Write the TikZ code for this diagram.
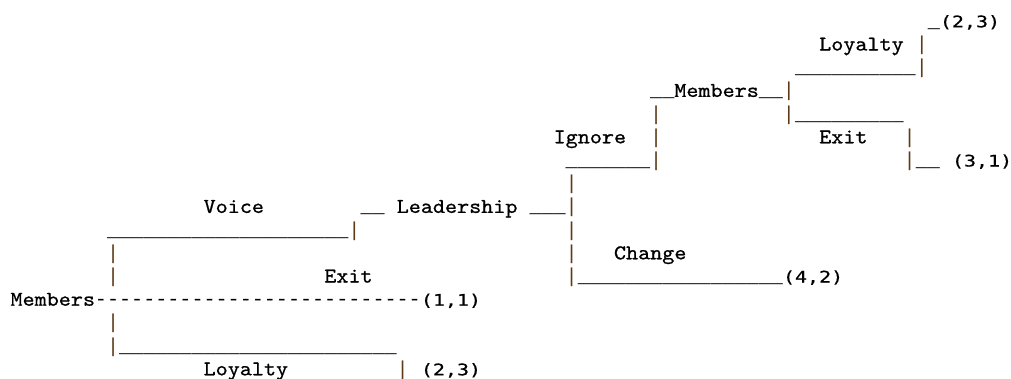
\documentclass[tikz,border=0pt]{standalone}
\usepackage{fontspec}
\newfontfamily\labfont{lmmono10-regular}[Extension=.otf, FakeStretch=1.095, FakeBold=0.8]
\newfontfamily\linefont{Liberation Mono}
\newfontfamily\payfont[FakeStretch=1.25, FakeBold=0.6]{DejaVu Sans Mono}
\definecolor{barbrown}{RGB}{95,58,22}
\ExplSyntaxOn
\NewDocumentCommand\Rep{mm}{\prg_replicate:nn{#1}{#2}}
\ExplSyntaxOff
\tikzset{
  cell/.style={anchor=base west, inner sep=0pt, outer sep=0pt},
  lab/.style={cell, font=\labfont\fontsize{21}{24}\selectfont},
  pay/.style={cell, font=\payfont\fontsize{16}{20}\selectfont},
  lin/.style={cell, font=\linefont\fontsize{20.11}{24}\selectfont},
  vbar/.style={lin, text=barbrown},
}
% character grid: column c starts at x = 10.5 + 12.07 c ; row r has its baseline at y = 27.3 + 23.2 r
% #1 name, #2 row, #3 column, #4 text
\newcommand\Lab[4]{\node[lab] (#1) at ({10.5+12.07*#3},{27.3+23.2*#2}) {#4};}
\newcommand\Pay[4]{\node[pay] (#1) at ({10.5+12.07*#3},{27.3+23.2*#2}) {#4};}
\newcommand\Ln[4]{\node[lin] (#1) at ({10.5+12.07*#3},{27.3+23.2*#2}) {#4};}
\newcommand\Vb[3]{\node[vbar] (#1) at ({10.5+12.07*#3},{27.3+23.2*#2}) {|};}
\begin{document}
\begin{tikzpicture}[x=1pt,y=-1pt]
\useasboundingbox (0,0) rectangle (1011,378);
% row 0
\Ln{usA}{0}{76}{\_}
\Pay{payA}{0}{77}{(2,3)}
% row 1
\Lab{loyB}{1}{67}{Loyalty}
\Vb{vbB}{1}{75}
% row 2
\Ln{usC}{2}{65}{\Rep{10}{\_}}
\Vb{vbC}{2}{75}
% row 3
\Ln{usDa}{3}{53}{\_\_}
\Lab{memD}{3}{55}{Members}
\Ln{usDb}{3}{62}{\_\_}
\Vb{vbD}{3}{64}
% row 4
\Vb{vbEa}{4}{53}
\Vb{vbEb}{4}{64}
\Ln{usE}{4}{65}{\Rep{9}{\_}}
% row 5
\Lab{ignF}{5}{45}{Ignore}
\Vb{vbFa}{5}{53}
\Lab{exitF}{5}{67}{Exit}
\Vb{vbFb}{5}{74}
% row 6
\Ln{usGa}{6}{46}{\Rep{7}{\_}}
\Vb{vbGa}{6}{53}
\Vb{vbGb}{6}{74}
\Ln{usGb}{6}{75}{\_\_}
\Pay{payG}{6}{78}{(3,1)}
% row 7
\Vb{vbH}{7}{46}
% row 8
\Lab{voiceI}{8}{16}{Voice}
\Ln{usIa}{8}{29}{\_\_}
\Lab{leadI}{8}{32}{Leadership}
\Ln{usIb}{8}{43}{\_\_\_}
\Vb{vbI}{8}{46}
% row 9
\Ln{usJ}{9}{8}{\Rep{20}{\_}}
\Vb{vbJa}{9}{28}
\Vb{vbJb}{9}{46}
% row 10
\Vb{vbKa}{10}{8}
\Vb{vbKb}{10}{46}
\Lab{changeK}{10}{50}{Change}
% row 11
\Vb{vbLa}{11}{8}
\Lab{exitL}{11}{26}{Exit}
\Vb{vbLb}{11}{46}
\Ln{usL}{11}{47}{\Rep{17}{\_}}
\Pay{payL}{11}{64}{(4,2)}
% row 12
\Lab{memM}{12}{0}{Members}
\Ln{dashM}{12}{7}{\Rep{27}{-\kern0pt}}
\Pay{payM}{12}{34}{(1,1)}
% row 13
\Vb{vbN}{13}{8}
% row 14
\Vb{vbO}{14}{8}
\Ln{usO}{14}{9}{\Rep{23}{\_}}
% row 15
\Lab{loyP}{15}{16}{Loyalty}
\Vb{vbP}{15}{32}
\Pay{payP}{15}{34}{(2,3)}
\end{tikzpicture}
\end{document}
